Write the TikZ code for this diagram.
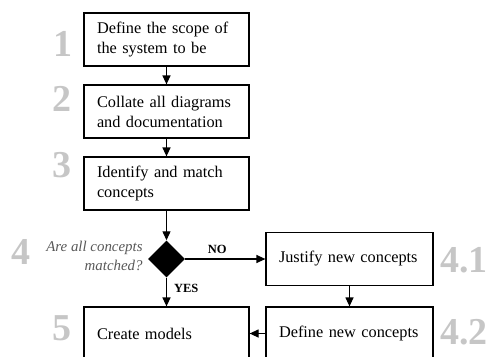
\documentclass[tikz,border=0pt]{standalone}
\usepackage{fontspec}
\setmainfont{Liberation Serif}
\usetikzlibrary{shapes.geometric,arrows.meta,positioning,calc}

\begin{document}
\begin{tikzpicture}[
    x=1pt, y=1pt,
    node distance=72pt,
    box/.style={rectangle, draw, line width=1.2pt, minimum height=53pt, text width=#1, inner xsep=13pt, inner ysep=0pt, align=left, font=\fontsize{16.3}{20}\selectfont},
    box/.default=139pt,
    num/.style={text=gray!45, font=\fontsize{38}{38}\selectfont\bfseries, inner sep=0pt},
    ask/.style={text=gray!70!black, font=\fontsize{14.9}{19}\selectfont\itshape, align=right, inner sep=0pt},
    tag/.style={font=\fontsize{12.5}{14}\selectfont\bfseries, inner sep=0pt},
    decision/.style={diamond, fill=black, minimum width=37pt, minimum height=37pt, inner sep=0pt, aspect=1},
    arrow/.style={-{Triangle[length=9pt,width=8pt]}, line width=1.2pt}
]
    \useasboundingbox (0,0) rectangle (494,-356);

    \node[box] (scope) at (166.5,-39.5) {Define the scope of\\the system to be};
    \node[box, below of=scope] (collate) {Collate all diagrams\\and documentation};
    \node[box, below of=collate] (identify) {Identify and match\\concepts};
    \node[decision, below of=identify, node distance=75.5pt] (matched) {};
    \node[box, below of=matched, node distance=74.5pt] (create) {Create models};
    \node[box=141pt, right of=matched, node distance=183pt] (justify) {Justify new concepts};
    \node[box=141pt, below of=justify, node distance=74.5pt] (definenew) {Define new concepts};

    \node[ask, left=5pt of matched, yshift=3pt] (question) {Are all concepts\\matched?};

    % step numbers
    \node[num, left of=scope, node distance=103.5pt, yshift=-4pt] (n1) {1};
    \node[num, left of=collate, node distance=105pt, yshift=13pt] (n2) {2};
    \node[num, left of=identify, node distance=104.5pt, yshift=18.5pt] (n3) {3};
    \node[num, left of=matched, node distance=145pt, yshift=7.5pt] (n4) {4};
    \node[num, left of=create, node distance=105pt, yshift=5pt] (n5) {5};
    \node[num, right of=justify, node distance=114.5pt, yshift=-1pt] (n41) {4.1};
    \node[num, right of=definenew, node distance=114.5pt, yshift=1pt] (n42) {4.2};

    \draw[arrow] (scope) -- (collate);
    \draw[arrow] (collate) -- (identify);
    \draw[arrow] (identify) -- (matched);
    \draw[arrow] (matched) -- node[tag, above=5pt, pos=0.4] {NO} (justify);
    \draw[arrow] (matched) -- node[tag, right=7pt, pos=0.36] {YES} (create);
    \draw[arrow] (justify) -- (definenew);
    \draw[arrow] (definenew) -- (create);
\end{tikzpicture}
\end{document}
